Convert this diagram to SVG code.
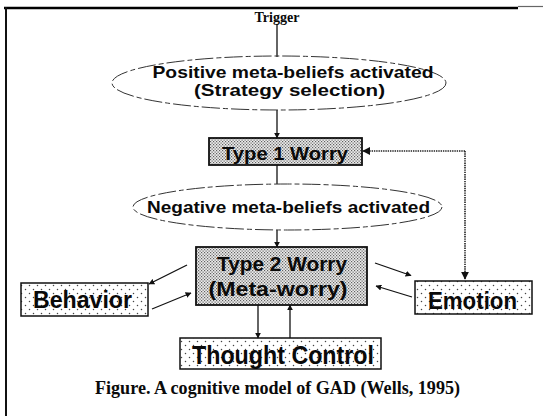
<svg xmlns="http://www.w3.org/2000/svg" width="543" height="416" viewBox="0 0 543 416">
<defs>
<style>
.sans{font-family:"Liberation Sans",Arial,sans-serif;font-weight:bold;fill:#0a0a0a;}
.serif{font-family:"Liberation Serif","Times New Roman",serif;font-weight:bold;fill:#0a0a0a;}
.ell{fill:none;stroke:#333;stroke-width:1;stroke-dasharray:18 3 5 3;}
.dense{fill:url(#densePat);stroke:#111;stroke-width:1.8;}
.sparse{fill:url(#sparsePat);stroke:#111;stroke-width:1.5;}
.ln{stroke:#111;stroke-width:1.3;fill:none;}
.dot{stroke:#222;stroke-width:1.6;fill:none;stroke-dasharray:1.4 0.9;}
</style>
<pattern id="densePat" width="3" height="3" patternUnits="userSpaceOnUse">
<rect width="3" height="3" fill="#ececec"/>
<rect x="0" y="0" width="1.2" height="1.2" fill="#606060"/>
<rect x="1.5" y="1.5" width="1.2" height="1.2" fill="#606060"/>
</pattern>
<pattern id="sparsePat" width="8" height="8" patternUnits="userSpaceOnUse">
<rect width="8" height="8" fill="#fff"/>
<circle cx="1.5" cy="1.5" r="0.75" fill="#444"/>
<circle cx="5.5" cy="5.5" r="0.75" fill="#444"/>
</pattern>
<marker id="ah" viewBox="0 0 10 10" refX="9" refY="5" markerWidth="6" markerHeight="6" orient="auto" markerUnits="userSpaceOnUse">
<path d="M0,0 L10,5 L0,10 z" fill="#111"/>
</marker>
<marker id="ahBig" viewBox="0 0 10 10" refX="9" refY="5" markerWidth="8" markerHeight="8" orient="auto" markerUnits="userSpaceOnUse">
<path d="M0,0 L10,5 L0,10 z" fill="#111"/>
</marker>
</defs>
<rect width="543" height="416" fill="#fff"/>
<g id="frame">
<line x1="4" y1="8" x2="518" y2="8" stroke="#000" stroke-width="2.5"/>
<line x1="518" y1="6.5" x2="543" y2="6.5" stroke="#666" stroke-width="1.2"/>
<line x1="6" y1="7" x2="6" y2="416" stroke="#111" stroke-width="2"/>
</g>
<g id="connectors">
<line class="ln" x1="277" y1="24" x2="277" y2="57"/>
<line class="ln" x1="277" y1="110" x2="277" y2="138" marker-end="url(#ah)"/>
<line class="ln" x1="277" y1="165" x2="277" y2="184"/>
<line class="ln" x1="277" y1="230" x2="277" y2="247" marker-end="url(#ah)"/>
<line class="ln" x1="187" y1="265" x2="149" y2="284" marker-end="url(#ah)"/>
<line class="ln" x1="152" y1="309" x2="191" y2="293" marker-end="url(#ah)"/>
<line class="ln" x1="375" y1="263" x2="411" y2="275.5" marker-end="url(#ah)"/>
<line class="ln" x1="412" y1="297" x2="376" y2="286" marker-end="url(#ah)"/>
<line class="ln" x1="258" y1="305" x2="258" y2="338" marker-end="url(#ah)"/>
<line class="ln" x1="290" y1="338" x2="290" y2="305" marker-end="url(#ah)"/>
<polyline class="dot" points="465,151 465,279" marker-end="url(#ahBig)"/>
<line class="dot" x1="465" y1="151" x2="363" y2="151" marker-end="url(#ahBig)"/>
</g>
<g id="trigger">
<text class="serif" x="277" y="22" font-size="14" text-anchor="middle" textLength="45" lengthAdjust="spacingAndGlyphs">Trigger</text>
</g>
<g id="positive">
<ellipse class="ell" cx="279" cy="83" rx="167" ry="27"/>
<text class="sans" x="293" y="78" font-size="17" text-anchor="middle" textLength="281" lengthAdjust="spacingAndGlyphs">Positive meta-beliefs activated</text>
<text class="sans" x="289.5" y="96" font-size="17" text-anchor="middle" textLength="191" lengthAdjust="spacingAndGlyphs">(Strategy selection)</text>
</g>
<g id="type1">
<rect class="dense" x="209" y="138" width="153" height="27"/>
<text class="sans" x="285" y="160" font-size="19" text-anchor="middle" textLength="126" lengthAdjust="spacingAndGlyphs">Type 1 Worry</text>
</g>
<g id="negative">
<ellipse class="ell" cx="287.5" cy="207" rx="154.5" ry="23"/>
<text class="sans" x="288.5" y="213" font-size="17" text-anchor="middle" textLength="283" lengthAdjust="spacingAndGlyphs">Negative meta-beliefs activated</text>
</g>
<g id="type2">
<rect class="dense" x="196" y="247" width="171" height="58"/>
<text class="sans" x="282" y="271" font-size="20" text-anchor="middle" textLength="130" lengthAdjust="spacingAndGlyphs">Type 2 Worry</text>
<text class="sans" x="278" y="296" font-size="20" text-anchor="middle" textLength="139" lengthAdjust="spacingAndGlyphs">(Meta-worry)</text>
</g>
<g id="behavior">
<rect class="sparse" x="21" y="283" width="127" height="33"/>
<text class="sans" x="82.5" y="308" font-size="24" text-anchor="middle" textLength="99" lengthAdjust="spacingAndGlyphs">Behavior</text>
</g>
<g id="emotion">
<rect class="sparse" x="415" y="281" width="117" height="33"/>
<text class="sans" x="472.5" y="309" font-size="24" text-anchor="middle" textLength="89" lengthAdjust="spacingAndGlyphs">Emotion</text>
</g>
<g id="thought">
<rect class="sparse" x="180" y="338" width="201" height="31"/>
<text class="sans" x="283" y="364" font-size="25" text-anchor="middle" textLength="182" lengthAdjust="spacingAndGlyphs">Thought Control</text>
</g>
<g id="caption">
<text class="serif" x="277.5" y="394" font-size="18" text-anchor="middle" textLength="365" lengthAdjust="spacingAndGlyphs">Figure. A cognitive model of GAD (Wells, 1995)</text>
</g>
</svg>
